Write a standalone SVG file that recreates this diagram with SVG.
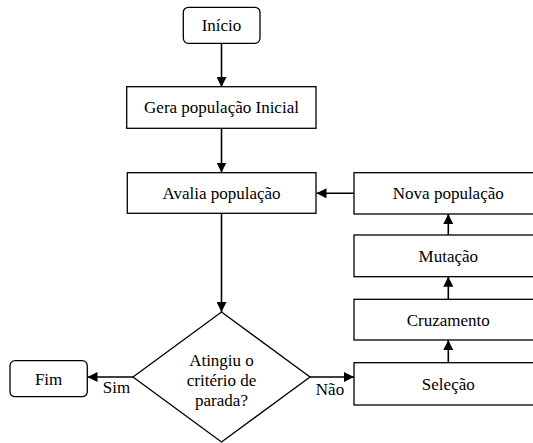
<svg xmlns="http://www.w3.org/2000/svg" width="533" height="443" viewBox="0 0 533 443">
<defs>
<style>
.box{fill:#fff;stroke:#000;stroke-width:1.3}
.t{font-family:"Liberation Serif","Times New Roman",serif;font-size:17px;fill:#000;text-anchor:middle}
.c{stroke:#000;stroke-width:1.6;fill:none;marker-end:url(#ah)}
</style>
<marker id="ah" markerWidth="10" markerHeight="10" viewBox="0 0 10 10" refX="10" refY="5" orient="auto" markerUnits="userSpaceOnUse">
<path d="M0,0 L10,5 L0,10 Z" fill="#000"/>
</marker>
</defs>
<rect width="533" height="443" fill="#fff"/>
<g id="connectors">
<line class="c" x1="221.5" y1="43.5" x2="221.5" y2="87"/>
<line class="c" x1="221.5" y1="128.5" x2="221.5" y2="172.5"/>
<line class="c" x1="221.5" y1="213.5" x2="221.5" y2="312"/>
<line class="c" x1="354" y1="193.3" x2="316.5" y2="193.3"/>
<line class="c" x1="133" y1="377" x2="87.5" y2="377"/>
<line class="c" x1="310" y1="377" x2="354" y2="377"/>
<line class="c" x1="448.3" y1="362.7" x2="448.3" y2="340"/>
<line class="c" x1="448.3" y1="299.3" x2="448.3" y2="276.7"/>
<line class="c" x1="448.3" y1="235" x2="448.3" y2="214"/>
<text class="t" x="116.5" y="393.3">Sim</text>
<text class="t" x="330" y="395">Não</text>
</g>
<g id="inicio">
<rect class="box" x="183.3" y="7.3" width="76.7" height="36" rx="5"/>
<text class="t" x="221.5" y="30.8">Início</text>
</g>
<g id="gera">
<rect class="box" x="126.7" y="86.7" width="189.3" height="41.6"/>
<text class="t" x="221.5" y="113.3">Gera população Inicial</text>
</g>
<g id="avalia">
<rect class="box" x="127.3" y="172.7" width="188.7" height="40.6"/>
<text class="t" x="221.5" y="199">Avalia população</text>
</g>
<g id="nova">
<rect class="box" x="354" y="172.7" width="190" height="41.3"/>
<text class="t" x="448.3" y="199">Nova população</text>
</g>
<g id="mutacao">
<rect class="box" x="354" y="235" width="190" height="41.7"/>
<text class="t" x="448.3" y="261.5">Mutação</text>
</g>
<g id="cruzamento">
<rect class="box" x="354" y="299.3" width="190" height="40.7"/>
<text class="t" x="448.3" y="325.5">Cruzamento</text>
</g>
<g id="selecao">
<rect class="box" x="354" y="362.7" width="190" height="42.3"/>
<text class="t" x="448.3" y="389.5">Seleção</text>
</g>
<g id="decisao">
<polygon class="box" points="221.5,312 310,377 221.5,442 133,377"/>
<text class="t" x="221.5" y="366">Atingiu o</text>
<text class="t" x="221.5" y="386">critério de</text>
<text class="t" x="221.5" y="406">parada?</text>
</g>
<g id="fim">
<rect class="box" x="10" y="360.7" width="77.3" height="36" rx="5"/>
<text class="t" x="48.6" y="384.5">Fim</text>
</g>
</svg>
